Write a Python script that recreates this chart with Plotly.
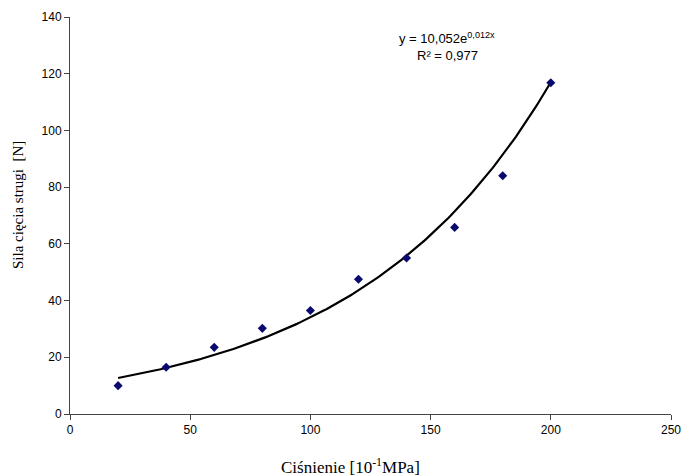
import numpy as np
import plotly.graph_objects as go

pressure = [20, 40, 60, 80, 100, 120, 140, 160, 180, 200]
force = [10.0, 16.5, 23.5, 30.2, 36.5, 47.5, 55.0, 65.8, 84.0, 116.8]
eq_text = "y = 10,052e<sup>0,012x</sup>"
r2_text = "R² = 0,977"
x_title = "Ciśnienie [10<sup>-1</sup>MPa]"
y_title = "Sila cięcia strugi  [N]"

# exponential trend fitted to the data
b, ln_a = np.polyfit(pressure, np.log(force), 1)
xt = np.linspace(min(pressure), max(pressure), 200)
yt = np.exp(ln_a) * np.exp(b * xt)

L, R, T, B = 70, 12, 17, 62
W, H = 683, 476
PW, PH = W - L - R, H - T - B


def px(xp):
    return (xp - L) / PW


def py(yp):
    return 1 - (yp - T) / PH


fig = go.Figure()
fig.add_trace(go.Scatter(x=xt, y=yt, mode="lines",
                         line=dict(color="black", width=2.2), showlegend=False))
fig.add_trace(go.Scatter(x=pressure, y=force, mode="markers",
                         marker=dict(symbol="diamond", size=7, color="#0a0a6e"),
                         showlegend=False))

serif = "Liberation Serif, Times New Roman"
fig.update_layout(
    width=W, height=H,
    margin=dict(l=L, r=R, t=T, b=B),
    paper_bgcolor="white", plot_bgcolor="white",
    font=dict(family="Liberation Sans, Arial", size=12, color="black"),
    xaxis=dict(range=[0, 250], tickvals=[0, 50, 100, 150, 200, 250],
               automargin=False,
               showline=True, linecolor="#444", linewidth=1,
               ticks="outside", ticklen=5, tickcolor="#444",
               showgrid=False, zeroline=False),
    yaxis=dict(range=[0, 140], tickvals=list(range(0, 141, 20)),
               automargin=False,
               showline=True, linecolor="#444", linewidth=1,
               ticks="outside", ticklen=5, tickcolor="#444",
               showgrid=False, zeroline=False),
    annotations=[
        dict(x=px(447), y=py(38), xref="paper", yref="paper",
             text=eq_text, showarrow=False, font=dict(size=13),
             xanchor="center", yanchor="middle"),
        dict(x=px(447), y=py(55), xref="paper", yref="paper",
             text=r2_text, showarrow=False, font=dict(size=13),
             xanchor="center", yanchor="middle"),
        dict(x=px(350), y=py(466), xref="paper", yref="paper",
             text=x_title, showarrow=False, font=dict(family=serif, size=17),
             xanchor="center", yanchor="middle"),
        dict(x=px(18), y=py(205), xref="paper", yref="paper",
             text=y_title, showarrow=False, font=dict(family=serif, size=15),
             textangle=-90, xanchor="center", yanchor="middle"),
    ],
)

fig.write_html("out.html")
